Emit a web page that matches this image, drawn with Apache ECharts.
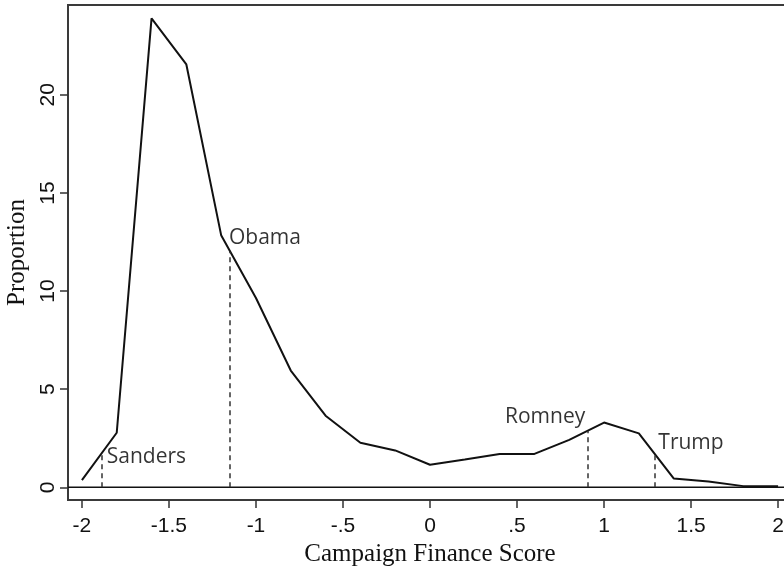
<!DOCTYPE html>
<html>
<head>
<meta charset="utf-8">
<script src="https://cdn.jsdelivr.net/npm/echarts@6/dist/echarts.min.js"></script>
<style>
  html, body { margin: 0; padding: 0; background: #fff; }
  #chart { width: 784px; height: 568px; }
</style>
</head>
<body>
<div id="chart"></div>
<script>
// Density of campaign finance scores, evaluated on a 0.2-wide grid
const scores = [-2, -1.8, -1.6, -1.4, -1.2, -1.0, -0.8, -0.6, -0.4, -0.2, 0,
                0.2, 0.4, 0.6, 0.8, 1.0, 1.2, 1.4, 1.6, 1.8, 2.0];
const proportion = [0.37, 2.78, 23.9, 21.55, 12.85, 9.65, 5.95, 3.65, 2.27, 1.88, 1.15,
                    1.42, 1.7, 1.7, 2.42, 3.3, 2.75, 0.45, 0.3, 0.06, 0.05];

// Candidate scores and the curve height where each marker line stops
const candidates = ['Sanders', 'Obama', 'Romney', 'Trump'];
const candidateScore = [-1.887, -1.153, 0.904, 1.293];
const candidateHeight = [1.7, 12.0, 2.87, 1.66];
// Where each name is written (left edge, vertical middle)
const nameX = [-1.857, -1.155, 0.431, 1.312];
const nameY = [1.52, 12.73, 3.58, 2.28];

// Axis ticks
const xTicks = [-2, -1.5, -1, -0.5, 0, 0.5, 1, 1.5, 2];
const xTickLabels = ['-2', '-1.5', '-1', '-.5', '0', '.5', '1', '1.5', '2'];
const yTicks = [0, 5, 10, 15, 20];

const chart = echarts.init(document.getElementById('chart'), null, { renderer: 'canvas' });

const curve = scores.map((s, i) => [s, proportion[i]]);
const markers = candidateScore.map((s, i) => [
  { coord: [s, 0] },
  { coord: [s, candidateHeight[i]] }
]);
const names = candidates.map((n, i) => ({ value: [nameX[i], nameY[i]], name: n }));

chart.setOption({
  animation: false,
  backgroundColor: '#fff',
  grid: {
    left: 68, top: 5, right: -8, height: 495,
    outerBoundsMode: 'none', containLabel: false,
    show: true, borderColor: '#3a3a3a', borderWidth: 2, backgroundColor: 'transparent'
  },
  xAxis: {
    type: 'value', min: -2.08, max: 2.08, position: 'bottom',
    splitLine: { show: false },
    axisLine: { show: false, onZero: false },
    axisTick: { show: true, length: 8, customValues: xTicks, lineStyle: { color: '#333', width: 1.5 } },
    axisLabel: {
      customValues: xTicks,
      formatter: (v) => xTickLabels[xTicks.findIndex(t => Math.abs(t - v) < 1e-9)],
      fontFamily: 'Liberation Sans', fontSize: 21, color: '#111', margin: 16
    },
    name: 'Campaign Finance Score', nameLocation: 'middle', nameGap: 42,
    nameTextStyle: { fontFamily: 'Liberation Serif', fontSize: 25, color: '#111' }
  },
  yAxis: {
    type: 'value', min: -0.647, max: 24.58, position: 'left',
    splitLine: { show: false },
    axisLine: { show: false, onZero: false },
    axisTick: { show: true, length: 8, customValues: yTicks, lineStyle: { color: '#333', width: 1.5 } },
    axisLabel: {
      customValues: yTicks, rotate: 90, align: 'center', verticalAlign: 'bottom',
      fontFamily: 'Liberation Sans', fontSize: 21, color: '#111', margin: 9
    },
    name: 'Proportion', nameLocation: 'middle', nameGap: 35,
    nameTextStyle: { fontFamily: 'Liberation Serif', fontSize: 25, color: '#111' }
  },
  series: [
    {
      type: 'line', data: curve, symbol: 'none', z: 3,
      lineStyle: { color: '#111', width: 2 },
      markLine: {
        silent: true, symbol: 'none', label: { show: false },
        lineStyle: { color: '#333', width: 1.5, type: [5, 4] },
        data: markers
      }
    },
    {
      // reference line at zero
      type: 'line', data: [[-2.08, 0], [2.08, 0]], symbol: 'none', z: 2,
      lineStyle: { color: '#111', width: 1.5 }
    },
    {
      type: 'scatter', data: names, symbolSize: 0,
      label: {
        show: true, position: 'right', distance: 0, formatter: (p) => p.name,
        fontFamily: 'Open Sans', fontSize: 21, color: '#000', verticalAlign: 'middle'
      }
    }
  ]
});
</script>
</body>
</html>
